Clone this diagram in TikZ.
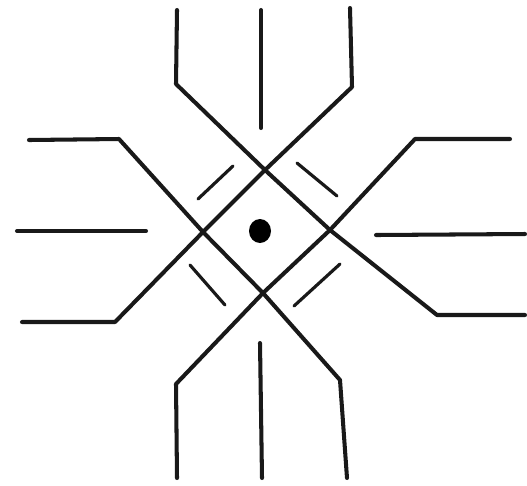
\documentclass[tikz,border=0pt]{standalone}
\begin{document}
\begin{tikzpicture}[x=0.02cm,y=-0.02cm,line cap=round,line join=round,
  stroke/.style={draw=black!90,line width=2.3pt},
  tick/.style={draw=black!90,line width=1.8pt}]
  \useasboundingbox (0,0) rectangle (527,485);
  \coordinate (top) at (265,170);
  \coordinate (rgt) at (330,230);
  \coordinate (bot) at (263,293);
  \coordinate (lft) at (203,232);
  \draw[stroke] (177,10) -- (176,84) -- (top) -- (rgt) -- (437,315) -- (525,315);
  \draw[stroke] (350,8) -- (352,87) -- (top) -- (lft) -- (115,322) -- (22,322);
  \draw[stroke] (29,140) -- (119,139) -- (lft) -- (bot) -- (340,380) -- (347,478);
  \draw[stroke] (510,139) -- (415,139) -- (rgt) -- (bot) -- (176,384) -- (177,478);
  \draw[stroke] (261,10) -- (261,128);
  \draw[stroke] (260,343) -- (262,478);
  \draw[stroke] (17,231) -- (146,231);
  \draw[stroke] (376,235) -- (525,234);
  \draw[tick] (198,199) -- (233,166);
  \draw[tick] (297,163) -- (337,196);
  \draw[tick] (190,265) -- (225,305);
  \draw[tick] (294,306) -- (340,264);
  \fill[black] (260,231) ellipse (11 and 12);
\end{tikzpicture}
\end{document}
